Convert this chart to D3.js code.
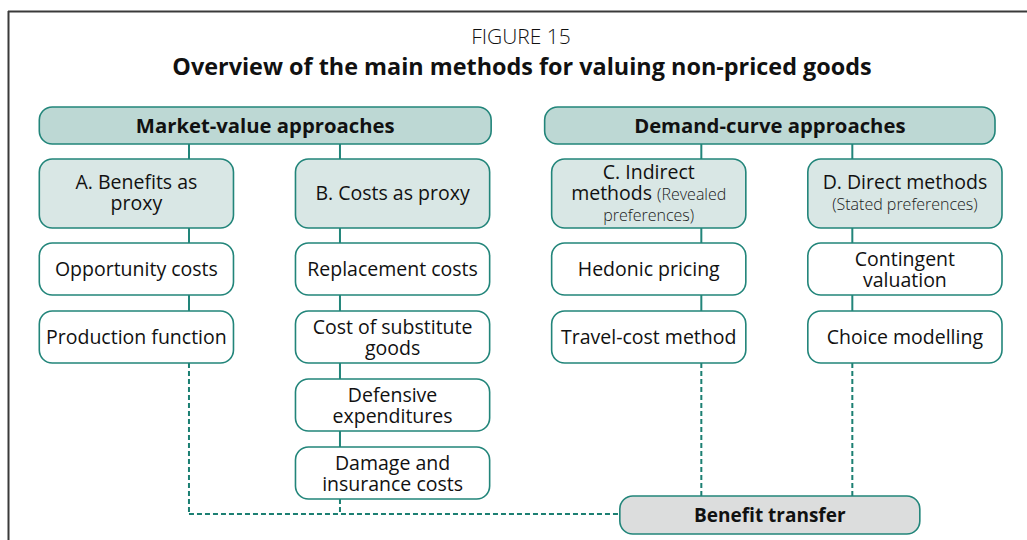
<!DOCTYPE html>
<html>
<head>
<meta charset="utf-8">
<script src="https://cdn.jsdelivr.net/npm/d3@7"></script>
<style>
  html, body { margin: 0; padding: 0; background: #ffffff; }
  svg { display: block; }
  text { font-family: "Open Sans", "Noto Sans", sans-serif; fill: #111111; }
</style>
</head>
<body>
<svg id="chart" width="1027" height="540"></svg>
<script>
// ---------------- data ----------------
const figureLabel = "FIGURE 15";
const title = "Overview of the main methods for valuing non-priced goods";
const groups = ["Market-value approaches", "Demand-curve approaches"];
const categories = ["A", "B", "C", "D"];
const categoryGroup = [0, 0, 1, 1];
const categoryLabels = [
  "A. Benefits as\nproxy",
  "B. Costs as proxy",
  "C. Indirect\nmethods (Revealed\npreferences)",
  "D. Direct methods\n(Stated preferences)"
];
const methodsA = ["Opportunity costs", "Production function"];
const methodsB = ["Replacement costs", "Cost of substitute\ngoods", "Defensive\nexpenditures", "Damage and\ninsurance costs"];
const methodsC = ["Hedonic pricing", "Travel-cost method"];
const methodsD = ["Contingent\nvaluation", "Choice modelling"];
const sinkLabel = "Benefit transfer";

// ---------------- styles ----------------
const teal = "#22857a";
const dashTeal = "#1b7f72";
const headerFill = "#bdd8d4";
const catFill = "#d9e7e5";
const sinkFill = "#dcdddd";
const fsBody = 19.5, fsSmall = 16, lineH = 21;

const svg = d3.select("#chart");

// frame
svg.append("line").attr("x1", 8).attr("x2", 1027).attr("y1", 11.5).attr("y2", 11.5)
  .attr("stroke", "#3a3a3a").attr("stroke-width", 2);
svg.append("line").attr("x1", 8.5).attr("x2", 8.5).attr("y1", 11).attr("y2", 540)
  .attr("stroke", "#3a3a3a").attr("stroke-width", 2);

// titles
svg.append("text").attr("x", 521).attr("y", 43.5).attr("text-anchor", "middle")
  .style("font-size", "21px").style("font-weight", 300).text(figureLabel);
svg.append("text").attr("x", 522).attr("y", 74.5).attr("text-anchor", "middle")
  .style("font-size", "23.4px").style("font-weight", 700).text(title);

// ---------------- scales ----------------
const x = d3.scaleBand().domain(categories).range([39.3, 1002]).paddingInner(0.242);
const bw = x.bandwidth();
const methodY = d3.scaleLinear().domain([0, 3]).range([243, 447]);
const methodH = 52;
const headerY = 107, headerH = 37;
const catY = 159, catH = 69;
const groupShift = [0, -7];
const sinkBox = { y: 496, h: 38, w: 300 };
const dashY = 514;

const methods = [methodsA, methodsB, methodsC, methodsD];

function pairCenter(g) {
  const cs = categories.filter((c, i) => categoryGroup[i] === g);
  return (x(cs[0]) + x(cs[cs.length - 1]) + bw) / 2;
}
function connectorX(i) {
  const g = categoryGroup[i];
  const first = categoryGroup.indexOf(g);
  return pairCenter(g) + (i === first ? -75.5 : 75.5);
}

// write multi-line label, parenthetical text smaller
function label(gEl, cx, cy, str, opts = {}) {
  const lines = str.split("\n");
  const n = lines.length;
  const t = gEl.append("text").attr("text-anchor", "middle")
    .style("font-size", (opts.size || fsBody) + "px")
    .style("font-weight", opts.weight || 400);
  let inParen = false;
  lines.forEach((ln, li) => {
    const by = cy + (li - (n - 1) / 2) * lineH + 7.2;
    const segs = [];
    let cur = "", curParen = inParen;
    for (const ch of ln) {
      if (ch === "(" && !inParen) {
        if (cur) segs.push({ t: cur, p: curParen });
        cur = ch; inParen = true; curParen = true;
      } else if (ch === ")" && inParen) {
        cur += ch; segs.push({ t: cur, p: true }); cur = ""; inParen = false; curParen = false;
      } else cur += ch;
    }
    if (cur) segs.push({ t: cur, p: curParen });
    const lineText = t.append("tspan").attr("x", cx).attr("y", by);
    segs.forEach((s, si) => {
      const ts = si === 0 ? lineText : t.append("tspan");
      ts.text(s.t);
      if (s.p) ts.style("font-size", fsSmall + "px").style("font-weight", 300).style("fill", "#1a1a1a");
    });
  });
}

function box(x0, y0, w, h, fill) {
  svg.append("rect").attr("x", x0).attr("y", y0).attr("width", w).attr("height", h)
    .attr("rx", 13).attr("ry", 13).attr("fill", fill).attr("stroke", teal).attr("stroke-width", 1.6);
}

// ---------------- connectors ----------------
const sinkX = pairCenter(1) + groupShift[1] - sinkBox.w / 2;
categories.forEach((c, i) => {
  const cx = connectorX(i);
  const ms = methods[i];
  const lastBottom = methodY(ms.length - 1) + methodH;
  svg.append("line").attr("x1", cx).attr("x2", cx).attr("y1", headerY + headerH).attr("y2", methodY(ms.length - 1))
    .attr("stroke", teal).attr("stroke-width", 2);
  const endY = categoryGroup[i] === 0 ? dashY : sinkBox.y;
  svg.append("line").attr("x1", cx).attr("x2", cx).attr("y1", lastBottom).attr("y2", endY)
    .attr("stroke", dashTeal).attr("stroke-width", 2).attr("stroke-dasharray", "5,3");
});
svg.append("line").attr("x1", connectorX(0)).attr("x2", sinkX).attr("y1", dashY).attr("y2", dashY)
  .attr("stroke", dashTeal).attr("stroke-width", 2).attr("stroke-dasharray", "5,3");

// ---------------- group headers ----------------
groups.forEach((gname, g) => {
  const cs = categories.filter((c, i) => categoryGroup[i] === g);
  const x0 = x(cs[0]) + groupShift[g];
  const x1 = x(cs[cs.length - 1]) + bw + groupShift[g] + (g === 0 ? 1.5 : 0);
  box(x0, headerY, x1 - x0, headerH, headerFill);
  label(svg, (x0 + x1) / 2, headerY + headerH / 2, gname, { weight: 700, size: 20.3 });
});

// ---------------- category boxes ----------------
categories.forEach((c, i) => {
  box(x(c), catY, bw, catH, catFill);
  label(svg, x(c) + bw / 2, catY + catH / 2 - 1, categoryLabels[i]);
});

// ---------------- method boxes ----------------
methods.forEach((ms, i) => {
  const c = categories[i];
  ms.forEach((m, j) => {
    box(x(c), methodY(j), bw, methodH, "#ffffff");
    label(svg, x(c) + bw / 2, methodY(j) + methodH / 2, m);
  });
});

// ---------------- sink ----------------
box(sinkX, sinkBox.y, sinkBox.w, sinkBox.h, sinkFill);
label(svg, sinkX + sinkBox.w / 2, sinkBox.y + sinkBox.h / 2, sinkLabel, { weight: 700, size: 19 });
</script>
</body>
</html>
